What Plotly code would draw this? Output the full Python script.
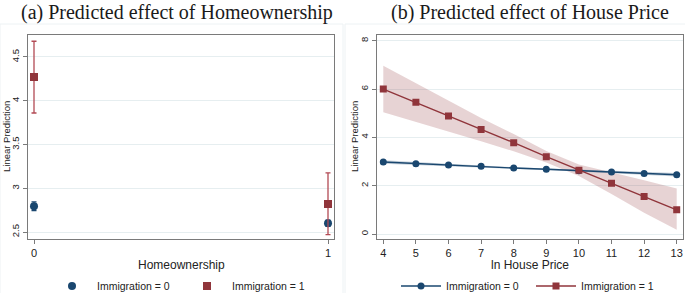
import plotly.graph_objects as go

# ---------------- data ----------------
# Panel (a): predicted effect of homeownership
home_x = [0, 1]
a_imm0 = [2.795, 2.600]
a_imm0_lo = [2.745, 2.565]
a_imm0_hi = [2.845, 2.635]
a_imm1 = [4.27, 2.82]
a_imm1_lo = [3.86, 2.47]
a_imm1_hi = [4.68, 3.175]

# Panel (b): predicted effect of ln house price
price_x = [4, 5, 6, 7, 8, 9, 10, 11, 12, 13]
b_imm0 = [2.98, 2.91, 2.86, 2.80, 2.73, 2.68, 2.62, 2.57, 2.50, 2.45]
b_imm0_lo = [2.91, 2.85, 2.81, 2.76, 2.695, 2.645, 2.58, 2.52, 2.44, 2.38]
b_imm0_hi = [3.05, 2.97, 2.91, 2.84, 2.765, 2.715, 2.66, 2.62, 2.56, 2.52]
b_imm1 = [6.00, 5.45, 4.88, 4.32, 3.78, 3.20, 2.64, 2.10, 1.55, 1.00]
b_imm1_lo = [5.04, 4.65, 4.24, 3.84, 3.42, 2.96, 2.40, 1.66, 0.88, 0.18]
b_imm1_hi = [6.96, 6.25, 5.52, 4.80, 4.14, 3.44, 2.88, 2.56, 2.22, 1.88]

a_yticks = [2.5, 3, 3.5, 4, 4.5]
b_yticks = [0, 2, 4, 6, 8]

NAVY = "#1a476f"
MAROON = "#90353b"
SANS = "Liberation Sans, Arial, sans-serif"
SERIF = "Liberation Serif, Times New Roman, serif"

W, H = 685, 293
def px(x):
    return x / W
def py(y):
    return 1 - y / H

fig = go.Figure()

# ---- panel (a)
fig.add_trace(go.Scatter(
    x=home_x, y=a_imm0, mode="markers", name="Immigration = 0",
    marker=dict(symbol="circle", size=8, color=NAVY),
    error_y=dict(type="data", symmetric=False,
                 array=[h - v for h, v in zip(a_imm0_hi, a_imm0)],
                 arrayminus=[v - l for l, v in zip(a_imm0_lo, a_imm0)],
                 color=NAVY, thickness=1.3, width=2.5),
    xaxis="x", yaxis="y", legend="legend"))
fig.add_trace(go.Scatter(
    x=home_x, y=a_imm1, mode="markers", name="Immigration = 1",
    marker=dict(symbol="square", size=8, color=MAROON),
    error_y=dict(type="data", symmetric=False,
                 array=[h - v for h, v in zip(a_imm1_hi, a_imm1)],
                 arrayminus=[v - l for l, v in zip(a_imm1_lo, a_imm1)],
                 color="#b24a54", thickness=1.3, width=2.5),
    xaxis="x", yaxis="y", legend="legend"))

# ---- panel (b) bands
fig.add_trace(go.Scatter(x=price_x, y=b_imm1_lo, mode="lines", line=dict(width=0),
                         showlegend=False, hoverinfo="skip", xaxis="x2", yaxis="y2"))
fig.add_trace(go.Scatter(x=price_x, y=b_imm1_hi, mode="lines", line=dict(width=0),
                         fill="tonexty", fillcolor="rgba(144,53,59,0.22)",
                         showlegend=False, hoverinfo="skip", xaxis="x2", yaxis="y2"))
fig.add_trace(go.Scatter(x=price_x, y=b_imm0_lo, mode="lines", line=dict(width=0),
                         showlegend=False, hoverinfo="skip", xaxis="x2", yaxis="y2"))
fig.add_trace(go.Scatter(x=price_x, y=b_imm0_hi, mode="lines", line=dict(width=0),
                         fill="tonexty", fillcolor="rgba(26,71,111,0.25)",
                         showlegend=False, hoverinfo="skip", xaxis="x2", yaxis="y2"))
fig.add_trace(go.Scatter(
    x=price_x, y=b_imm0, mode="lines+markers", name="Immigration = 0",
    line=dict(color=NAVY, width=1.4),
    marker=dict(symbol="circle", size=7, color=NAVY),
    xaxis="x2", yaxis="y2", legend="legend2"))
fig.add_trace(go.Scatter(
    x=price_x, y=b_imm1, mode="lines+markers", name="Immigration = 1",
    line=dict(color=MAROON, width=1.4),
    marker=dict(symbol="square", size=7, color=MAROON),
    xaxis="x2", yaxis="y2", legend="legend2"))

axis_common = dict(showline=True, linecolor="#7a7a7a", linewidth=1.3, mirror=True,
                   ticks="outside", ticklen=4, tickcolor="#7a7a7a", tickwidth=1,
                   zeroline=False, automargin=False)
xtickfont = dict(family=SANS, size=11, color="#222")
ytickfont = dict(family=SANS, size=9.5, color="#222")
ydom = [py(239), py(34.5)]

legend_common = dict(orientation="h", xref="container", yref="container",
                     y=py(286), yanchor="middle", entrywidth=80, itemwidth=40,
                     traceorder="normal",
                     font=dict(family=SANS, size=10.5, color="#222"),
                     bgcolor="rgba(0,0,0,0)")

fig.update_layout(
    width=W, height=H,
    margin=dict(l=0, r=0, t=0, b=0, autoexpand=False),
    paper_bgcolor="white", plot_bgcolor="white",
    xaxis=dict(domain=[px(28), px(333.5)], range=[-0.0204, 1.0187],
               tickvals=home_x, showgrid=False, anchor="y", tickfont=xtickfont,
               **axis_common),
    yaxis=dict(domain=ydom, range=[2.42, 4.757], tickvals=a_yticks,
               showgrid=True, gridcolor="#e6eef0", gridwidth=1, anchor="x",
               tickangle=-90, tickfont=ytickfont, **axis_common),
    xaxis2=dict(domain=[px(377), px(683)], range=[3.807, 13.193],
                tickvals=price_x, showgrid=False, anchor="y2", tickfont=xtickfont,
                **axis_common),
    yaxis2=dict(domain=ydom, range=[-0.207, 8.257], tickvals=b_yticks,
                showgrid=True, gridcolor="#e6eef0", gridwidth=1, anchor="x2",
                tickangle=-90, tickfont=ytickfont, **axis_common),
    legend=dict(x=px(47), xanchor="left", **legend_common),
    legend2=dict(x=px(396), xanchor="left", **legend_common),
    showlegend=True,
)

# faint graph-region borders
fig.add_shape(type="rect", xref="paper", yref="paper", x0=px(0), x1=px(343),
              y0=py(296), y1=py(24), line=dict(color="#edf2f4", width=1), layer="below")
fig.add_shape(type="rect", xref="paper", yref="paper", x0=px(345), x1=px(688),
              y0=py(296), y1=py(24), line=dict(color="#edf2f4", width=1), layer="below")

# titles and axis titles
ann = [
    dict(text="(a) Predicted effect of Homeownership", x=px(177), y=1, yanchor="top",
         yshift=1, font=dict(family=SERIF, size=20, color="#1a1a1a")),
    dict(text="(b) Predicted effect of House Price", x=px(530), y=1, yanchor="top",
         yshift=1, font=dict(family=SERIF, size=20, color="#1a1a1a")),
    dict(text="Homeownership", x=px(181), y=py(265), yanchor="middle",
         font=dict(family=SANS, size=12, color="#222")),
    dict(text="ln House Price", x=px(530), y=py(265), yanchor="middle",
         font=dict(family=SANS, size=12, color="#222")),
    dict(text="Linear Prediction", x=px(6), y=py(137), textangle=-90, yanchor="middle",
         font=dict(family=SANS, size=9.5, color="#222")),
    dict(text="Linear Prediction", x=px(354), y=py(137), textangle=-90, yanchor="middle",
         font=dict(family=SANS, size=9.5, color="#222")),
]
for a in ann:
    fig.add_annotation(xref="paper", yref="paper", showarrow=False,
                       xanchor="center", **a)

fig.write_html("out.html",
               config={"displayModeBar": False},
               post_script="document.body.style.margin='0';document.body.style.overflow='hidden';")
